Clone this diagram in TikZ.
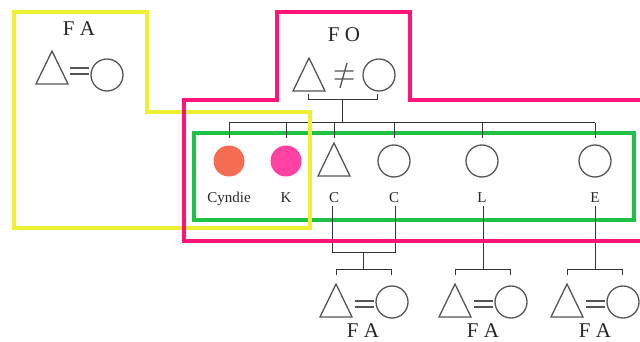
\documentclass[tikz,border=0pt]{standalone}
\usepackage{fontspec}
\setmainfont{Liberation Serif}
\definecolor{ylw}{HTML}{F0F032}
\definecolor{pnk}{HTML}{FF1478}
\definecolor{grn}{HTML}{1EC246}
\definecolor{cyn}{HTML}{F46C52}
\definecolor{kpk}{HTML}{FF42A2}
\definecolor{lin}{HTML}{333340}
\definecolor{shp}{HTML}{555555}
\newcommand{\mytri}[3]{\coordinate (#1) at (#2,#3);
  \draw[shapeline] ([shift={(-16,16)}]#1) -- ([shift={(0,-17)}]#1) -- ([shift={(16,16)}]#1) -- cycle;}
\newcommand{\myeq}[3]{\coordinate (#1) at (#2,#3);
  \draw[shapeline] ([shift={(-9.5,-3)}]#1) -- ([shift={(9.5,-3)}]#1)
                   ([shift={(-9.5,3)}]#1) -- ([shift={(9.5,3)}]#1);}
\tikzset{
  shapeline/.style={draw=shp, line width=1.3pt},
  person/.style={circle, draw=shp, line width=1.3pt, minimum size=32pt, inner sep=0pt},
  filledp/.style={circle, minimum size=31pt, inner sep=0pt},
  kin/.style={draw=lin, line width=1pt},
  grp/.style={line width=4pt, line join=miter},
  big/.style={font=\fontsize{21}{24}\selectfont, text=black!85, anchor=base},
  small/.style={font=\fontsize{15}{18}\selectfont, text=black!85, anchor=base},
}
\begin{document}
\begin{tikzpicture}[x=1pt,y=-1pt]
\useasboundingbox (0,0) rectangle (640,342);
\clip (0,0) rectangle (640,342);

% top-left couple
\node[big] (fa0) at (79,36) {F A};
\mytri{t0}{52}{68}
\myeq{e0}{79}{71}
\node[person] (c0) at (107,75) {};

% parents
\node[big] (fo) at (344,42) {F O};
\mytri{tp}{309}{75}
\node[person] (cp) at (379,75) {};
\coordinate (ne) at (344,75);
\draw[shapeline] ([shift={(-9.5,-4)}]ne) -- ([shift={(9.5,-4)}]ne)
                 ([shift={(-9.5,4)}]ne) -- ([shift={(9.5,4)}]ne)
                 ([shift={(3,-12)}]ne) -- ([shift={(-4,13)}]ne);

% children
\node[filledp, fill=cyn] (cy) at (229,161) {};
\node[filledp, fill=kpk] (kk) at (286,161) {};
\mytri{tc}{334}{160}
\node[person] (cc) at (394,161) {};
\node[person] (cl) at (482,161) {};
\node[person] (ce) at (595,161) {};
\node[small] (lcy) at (229,202) {Cyndie};
\node[small] (lk) at (286,202) {K};
\node[small] (ltc) at (334,202) {C};
\node[small] (lcc) at (394,202) {C};
\node[small] (lcl) at (482,202) {L};
\node[small] (lce) at (595,202) {E};

% green box
\draw[grp, draw=grn] (194,133) rectangle (634,220);

% parent bracket and sibling line
\coordinate (pbl) at (308,94);
\coordinate (pbr) at (377,94);
\draw[kin] (pbl) -- (308,100) -- (377,100) -- (pbr);
\draw[kin] (342,100) -- (342,123);
\draw[kin] (229,123) -- (595,123);
\foreach \x in {229,286,334,394,482,595} \draw[kin] (\x,123) -- (\x,138);

% lower couples
\mytri{t1}{336}{301}
\myeq{e1}{364}{304}
\node[person] (c1) at (392,302) {};
\node[big] (fa1) at (363,337) {F A};

\mytri{t2}{455}{301}
\myeq{e2}{483}{304}
\node[person] (c2) at (511,302) {};
\node[big] (fa2) at (483,337) {F A};

\mytri{t3}{567}{301}
\myeq{e3}{595}{304}
\node[person] (c3) at (623,302) {};
\node[big] (fa3) at (595,337) {F A};

% lines from children to their couples
\draw[kin] (332,206) -- (332,252) -- (395,252) -- (395,206);
\draw[kin] (363,252) -- (363,269);
\draw[kin] (336,275) -- (336,269) -- (391,269) -- (391,275);
\draw[kin] (483,206) -- (483,269);
\draw[kin] (455,275) -- (455,269) -- (510,269) -- (510,275);
\draw[kin] (595,206) -- (595,269);
\draw[kin] (567,275) -- (567,269) -- (622,269) -- (622,275);

% yellow and pink groups
\draw[grp, draw=ylw] (14,12) -- (147,12) -- (147,112) -- (310,112) -- (310,228) -- (14,228) -- cycle;
\draw[grp, draw=pnk] (277,12) -- (410,12) -- (410,100) -- (660,100) -- (660,241) -- (184,241) -- (184,100) -- (277,100) -- cycle;
\end{tikzpicture}
\end{document}
